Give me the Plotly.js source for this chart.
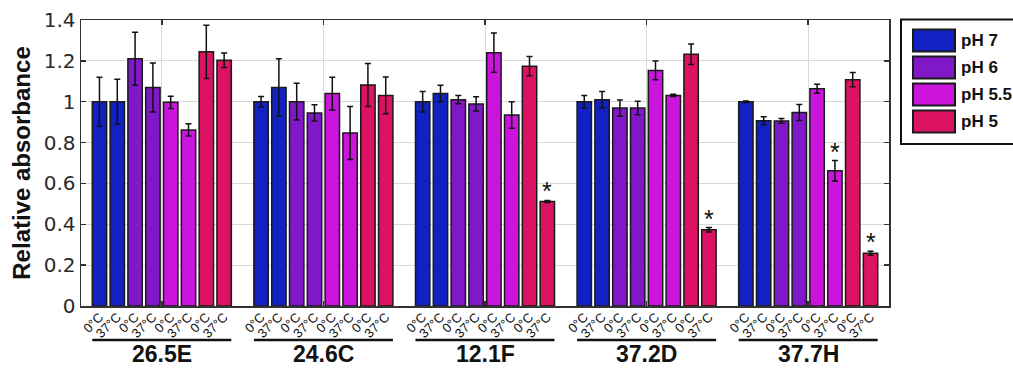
<!DOCTYPE html>
<html>
<head>
<meta charset="utf-8">
<script src="https://cdn.plot.ly/plotly-3.0.1.min.js"></script>
<style>html,body{margin:0;padding:0;background:#fff;}#chart{width:1013px;height:369px;}</style>
</head>
<body>
<div id="chart"></div>
<script>
// ---- data ----
const groups = ["26.5E", "24.6C", "12.1F", "37.2D", "37.7H"];
const temps = ["0°C", "37°C"];
const phLabels = ["pH 7", "pH 6", "pH 5.5", "pH 5"];
const phColors = ["#1222C2", "#8118C8", "#CB14DC", "#DC1262"];

// values per pH: [group][temp]
const valPH7   = [[1.00, 1.00], [1.00, 1.07], [1.00, 1.04], [1.00, 1.01], [1.00, 0.907]];
const valPH6   = [[1.21, 1.07], [1.00, 0.945], [1.01, 0.989], [0.969, 0.969], [0.906, 0.947]];
const valPH55  = [[0.997, 0.862], [1.04, 0.847], [1.24, 0.935], [1.153, 1.031], [1.063, 0.662]];
const valPH5   = [[1.244, 1.203], [1.082, 1.031], [1.174, 0.512], [1.232, 0.373], [1.108, 0.258]];

const errPH7   = [[0.12, 0.11], [0.025, 0.14], [0.05, 0.04], [0.03, 0.04], [0.004, 0.02]];
const errPH6   = [[0.13, 0.12], [0.09, 0.04], [0.02, 0.035], [0.04, 0.033], [0.012, 0.039]];
const errPH55  = [[0.03, 0.03], [0.08, 0.13], [0.096, 0.065], [0.046, 0.005], [0.022, 0.05]];
const errPH5   = [[0.13, 0.035], [0.105, 0.09], [0.047, 0.005], [0.05, 0.011], [0.035, 0.01]];

// significance marks: [groupIndex, phIndex, tempIndex]
const starMarks = [[2, 3, 1], [3, 3, 1], [4, 2, 1], [4, 3, 1]];

const yTicks = [0, 0.2, 0.4, 0.6, 0.8, 1, 1.2, 1.4];

// ---- layout helpers ----
const vals = [valPH7, valPH6, valPH55, valPH5];
const errs = [errPH7, errPH6, errPH55, errPH5];
const pitch = 0.1102;
const barW = 0.089;
function pos(g, p, t) { return (g + 1) + ((p * 2 + t) - 3.5) * pitch; }

// plot area in px
const L = 81, R = 889, T = 20, B = 306, W = 1013, H = 369;
function px2x(px) { return (px - L) / (R - L); }
function px2y(py) { return (B - py) / (B - T); }

const FONT = 'Liberation Sans, Arial, sans-serif';

const traces = [];
for (let p = 0; p < 4; p++) {
  const xs = [], ys = [], es = [];
  for (let g = 0; g < groups.length; g++) {
    for (let t = 0; t < 2; t++) {
      xs.push(pos(g, p, t));
      ys.push(vals[p][g][t]);
      es.push(errs[p][g][t]);
    }
  }
  traces.push({
    type: 'bar', x: xs, y: ys, width: barW, name: phLabels[p],
    marker: { color: phColors[p], line: { color: '#1a1a1a', width: 1.5 } },
    error_y: { type: 'data', array: es, visible: true, color: '#111', thickness: 1.5, width: 3 },
    showlegend: false, hoverinfo: 'x+y'
  });
}

// tick positions/labels for temperatures
const tv = [], tt = [];
for (let g = 0; g < groups.length; g++)
  for (let p = 0; p < 4; p++)
    for (let t = 0; t < 2; t++) { tv.push(pos(g, p, t)); tt.push(temps[t]); }

// invisible trace on xaxis2 so it renders
traces.push({ type: 'scatter', x: [tv[0]], y: [0], xaxis: 'x2', mode: 'markers',
  marker: { opacity: 0 }, showlegend: false, hoverinfo: 'skip' });

const shapes = [];
const annotations = [];

// group labels and underlines
for (let g = 0; g < groups.length; g++) {
  const x0 = pos(g, 0, 0) - barW / 2, x1 = pos(g, 3, 1) + barW / 2;
  shapes.push({ type: 'line', xref: 'x', yref: 'paper', x0: x0, x1: x1,
    y0: px2y(340), y1: px2y(340), line: { color: '#111', width: 2.5 } });
  annotations.push({ xref: 'x', yref: 'paper', x: g + 1, y: px2y(354), text: '<b>' + groups[g] + '</b>',
    showarrow: false, font: { size: 23, color: '#111', family: FONT },
    xanchor: 'center', yanchor: 'middle' });
}

// asterisks
starMarks.forEach(function (s) {
  const g = s[0], p = s[1], t = s[2];
  annotations.push({ xref: 'x', yref: 'y', x: pos(g, p, t), y: vals[p][g][t] + errs[p][g][t],
    text: '*', showarrow: false, yanchor: 'bottom', yshift: -7,
    font: { size: 25, color: '#111', family: FONT } });
});

// custom legend
shapes.push({ type: 'rect', xref: 'paper', yref: 'paper', x0: px2x(901), x1: px2x(1030),
  y0: px2y(144), y1: px2y(19.5), line: { color: '#111', width: 2 }, fillcolor: 'rgba(0,0,0,0)' });
for (let p = 0; p < 4; p++) {
  const top = 29.5 + p * 27;
  shapes.push({ type: 'rect', xref: 'paper', yref: 'paper', x0: px2x(913), x1: px2x(955),
    y0: px2y(top + 22), y1: px2y(top), fillcolor: phColors[p], line: { color: '#1a1a1a', width: 2 } });
  annotations.push({ xref: 'paper', yref: 'paper', x: px2x(959), y: px2y(top + 11),
    text: '<b>' + phLabels[p] + '</b>', showarrow: false, xanchor: 'left', yanchor: 'middle',
    font: { size: 17, color: '#111', family: FONT } });
}

const layout = {
  width: W, height: H,
  margin: { l: L, r: W - R, t: T, b: H - B, pad: 0 },
  paper_bgcolor: '#fff', plot_bgcolor: '#fff',
  font: { family: FONT, color: '#222' },
  barmode: 'overlay',
  xaxis: {
    range: [0.5, 5.5], tickvals: [1, 2, 3, 4, 5], showticklabels: false,
    showgrid: true, gridcolor: '#d9d9d9', gridwidth: 1,
    ticks: 'inside', ticklen: 5, tickcolor: '#333', tickwidth: 1.5,
    showline: true, linecolor: '#333', linewidth: 1.5, mirror: 'ticks', zeroline: false
  },
  xaxis2: {
    overlaying: 'x', side: 'bottom', range: [0.5, 5.5], tickmode: 'array', tickvals: tv, ticktext: tt,
    tickangle: -45, ticks: '', showgrid: false, showline: false, zeroline: false,
    tickfont: { size: 13, color: '#111' }, ticklabelstandoff: 0
  },
  yaxis: {
    range: [0, 1.4], tickvals: yTicks, ticktext: yTicks.map(String),
    showgrid: true, gridcolor: '#d9d9d9', gridwidth: 1, zeroline: false,
    ticks: 'inside', ticklen: 5, tickcolor: '#333', tickwidth: 1.5,
    showline: true, linecolor: '#333', linewidth: 1.5, mirror: 'ticks',
    tickfont: { size: 20, color: '#2a2a2a', family: 'DejaVu Sans, sans-serif' },
    title: { text: '<b>Relative absorbance</b>', font: { size: 24, color: '#111', family: FONT }, standoff: 6 }
  },
  shapes: shapes, annotations: annotations
};

Plotly.newPlot('chart', traces, layout, { displayModeBar: false, staticPlot: true });
</script>
</body>
</html>
